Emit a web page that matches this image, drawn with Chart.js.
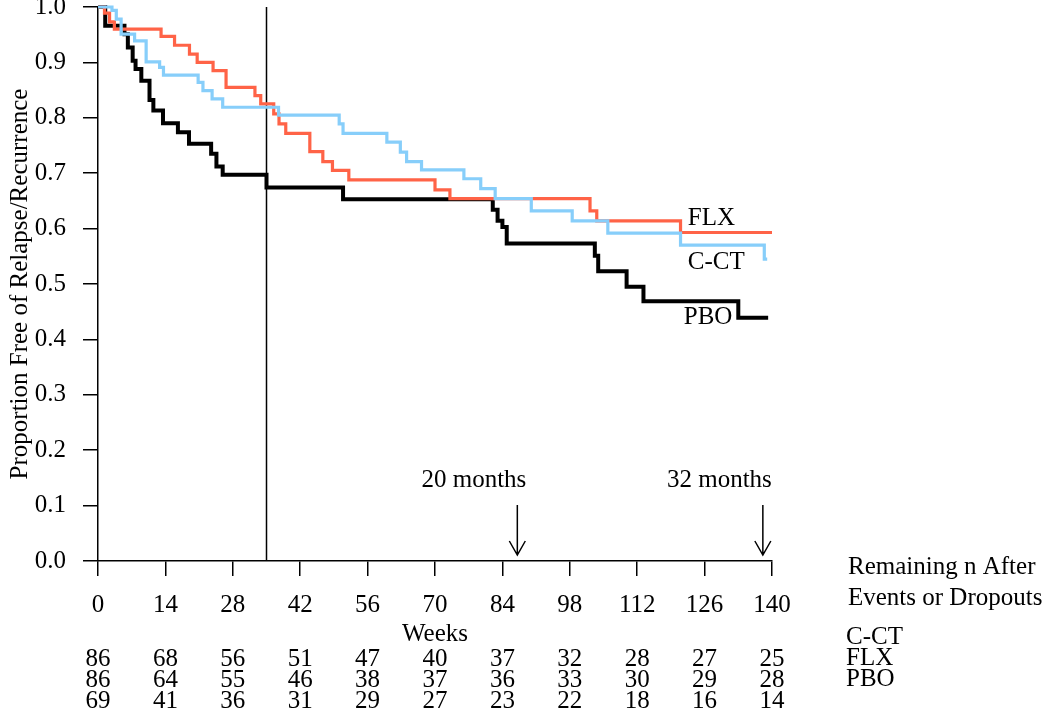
<!DOCTYPE html>
<html>
<head>
<meta charset="utf-8">
<script src="https://cdn.jsdelivr.net/npm/chart.js@4.4.1/dist/chart.umd.min.js"></script>
<style>
  html, body { margin: 0; padding: 0; background: #fff; }
  #wrap { width: 1050px; height: 724px; }
</style>
</head>
<body>
<div id="wrap"><canvas id="km" width="1050" height="724"></canvas></div>
<script>
// Kaplan-Meier steps: week of each drop and the survival after it (last entry = end of follow-up)
const ccctWeeks = [0, 2.9, 3.8, 4.8, 7.6, 10.0, 12.8, 13.6, 20.8, 21.8, 23.7, 25.9, 37.5, 50.1, 50.9, 60.0, 62.8, 64.1, 67.2, 76.0, 79.5, 82.5, 90.0, 98.5, 105.9, 121.0, 138.4, 139.0];
const ccctSurv  = [1.0, 0.994, 0.978, 0.951, 0.939, 0.901, 0.891, 0.877, 0.864, 0.849, 0.834, 0.819, 0.805, 0.789, 0.772, 0.756, 0.738, 0.721, 0.706, 0.690, 0.672, 0.654, 0.632, 0.614, 0.592, 0.570, 0.545, 0.545];

const flxWeeks = [0, 1.35, 2.4, 3.4, 13.1, 15.9, 19.0, 20.6, 23.9, 26.6, 32.6, 33.8, 36.5, 37.6, 39.0, 44.0, 46.7, 48.7, 52.1, 70.0, 73.1, 102.2, 103.6, 121.0, 140.0];
const flxSurv  = [1.0, 0.989, 0.973, 0.960, 0.947, 0.931, 0.915, 0.900, 0.885, 0.855, 0.840, 0.825, 0.807, 0.789, 0.772, 0.739, 0.721, 0.705, 0.688, 0.670, 0.654, 0.632, 0.614, 0.593, 0.593];

const pboWeeks = [0, 1.5, 5.5, 6.2, 7.2, 7.8, 9.0, 10.7, 11.5, 13.5, 16.6, 18.9, 23.5, 24.6, 25.9, 35.0, 50.9, 82.0, 83.0, 84.0, 84.9, 103.2, 103.9, 109.8, 113.3, 133.0, 139.2];
const pboSurv  = [1.0, 0.966, 0.951, 0.927, 0.903, 0.888, 0.867, 0.832, 0.813, 0.790, 0.774, 0.753, 0.735, 0.712, 0.697, 0.674, 0.653, 0.634, 0.614, 0.603, 0.573, 0.551, 0.523, 0.495, 0.469, 0.439, 0.439];

// numbers at risk under the axis
const riskWeeks = [0, 14, 28, 42, 56, 70, 84, 98, 112, 126, 140];
const riskCCT = [86, 68, 56, 51, 47, 40, 37, 32, 28, 27, 25];
const riskFLX = [86, 64, 55, 46, 38, 37, 36, 33, 30, 29, 28];
const riskPBO = [69, 41, 36, 31, 29, 27, 23, 22, 18, 16, 14];
const riskNames = ['C-CT', 'FLX', 'PBO'];

const cutoffWeek = 35;
const markerWeeks = [87.1, 138.1];
const markerLabels = ['20 months', '32 months'];

const FONT = "'Liberation Serif', 'Times New Roman', serif";
const FS = 25;

function toPoints(weeks, surv) {
  return weeks.map((w, i) => ({ x: w, y: surv[i] }));
}

const extras = {
  id: 'extras',
  beforeDatasetsDraw(chart) {
    const { ctx, chartArea, scales } = chart;
    const x = scales.x.getPixelForValue(cutoffWeek);
    ctx.save();
    ctx.strokeStyle = '#000';
    ctx.lineWidth = 1.5;
    ctx.beginPath();
    ctx.moveTo(x, chartArea.top);
    ctx.lineTo(x, chartArea.bottom);
    ctx.stroke();
    ctx.restore();
  },
  afterDraw(chart) {
    const { ctx, chartArea, scales } = chart;
    const xs = scales.x, ys = scales.y;
    ctx.save();
    ctx.fillStyle = '#000';
    ctx.strokeStyle = '#000';
    ctx.font = FS + 'px ' + FONT;
    ctx.textBaseline = 'middle';

    // curve labels
    ctx.textAlign = 'left';
    const lx = xs.getPixelForValue(122.5);
    ctx.fillText('FLX', lx, ys.getPixelForValue(0.618));
    ctx.fillText('C-CT', lx, ys.getPixelForValue(0.539));
    ctx.fillText('PBO', lx - 4, ys.getPixelForValue(0.44));

    // month arrows
    ctx.lineWidth = 1.5;
    markerWeeks.forEach((w, i) => {
      const ax = xs.getPixelForValue(w);
      const tip = chartArea.bottom - 6;
      const top = chartArea.bottom - 56;
      ctx.beginPath();
      ctx.moveTo(ax, top);
      ctx.lineTo(ax, tip);
      ctx.moveTo(ax - 8, tip - 14);
      ctx.lineTo(ax, tip);
      ctx.lineTo(ax + 8, tip - 14);
      ctx.stroke();
      ctx.textAlign = 'right';
      ctx.fillText(markerLabels[i], ax + 9, chartArea.bottom - 81);
    });

    // remaining n table
    ctx.textAlign = 'left';
    ctx.fillText('Remaining n After', 848, 567);
    ctx.fillText('Events or Dropouts', 848, 598);
    [riskCCT, riskFLX, riskPBO].forEach((row, r) => {
      const y = 659 + r * 21;
      ctx.textAlign = 'center';
      row.forEach((n, i) => ctx.fillText(String(n), xs.getPixelForValue(riskWeeks[i]), y));
      ctx.textAlign = 'left';
      ctx.fillText(riskNames[r], 846, y - 22);
    });
    ctx.restore();
  }
};

const axisCommon = {
  type: 'linear',
  grid: { drawOnChartArea: false, drawTicks: true, tickLength: 15, color: '#000', lineWidth: 1.5 },
  border: { color: '#000', width: 1.5 },
};

new Chart(document.getElementById('km'), {
  type: 'line',
  data: {
    datasets: [
      { label: 'C-CT', data: toPoints(ccctWeeks, ccctSurv), borderColor: '#87cefa', borderWidth: 3.2 },
      { label: 'FLX', data: toPoints(flxWeeks, flxSurv), borderColor: '#ff6347', borderWidth: 3.2 },
      { label: 'PBO', data: toPoints(pboWeeks, pboSurv), borderColor: '#000000', borderWidth: 4 }
    ]
  },
  options: {
    responsive: false,
    animation: false,
    parsing: false,
    datasets: { line: { stepped: 'before', pointRadius: 0, fill: false, clip: false, borderJoinStyle: 'miter', borderCapStyle: 'butt' } },
    layout: { padding: { top: 7, right: 278, left: 0, bottom: 0 } },
    plugins: { legend: { display: false }, tooltip: { enabled: false } },
    scales: {
      x: {
        ...axisCommon,
        min: 0, max: 140,
        ticks: { stepSize: 14, color: '#000', font: { family: FONT, size: FS }, padding: 14, maxRotation: 0 },
        title: { display: true, text: 'Weeks', color: '#000', font: { family: FONT, size: FS }, padding: { top: 0, bottom: 75 } },
        afterFit(s) { s.height = 163; s.paddingLeft = 0; s.paddingRight = 0; }
      },
      y: {
        ...axisCommon,
        min: 0, max: 1,
        ticks: { stepSize: 0.1, color: '#000', font: { family: FONT, size: FS }, padding: 17, callback: v => v.toFixed(1) },
        title: { display: true, text: 'Proportion Free of Relapse/Recurrence', color: '#000', font: { family: FONT, size: FS }, padding: { top: 5, bottom: 0 } },
        afterFit(s) { s.width = 98; s.paddingTop = 0; s.paddingBottom = 0; }
      }
    }
  },
  plugins: [extras]
});
</script>
</body>
</html>
